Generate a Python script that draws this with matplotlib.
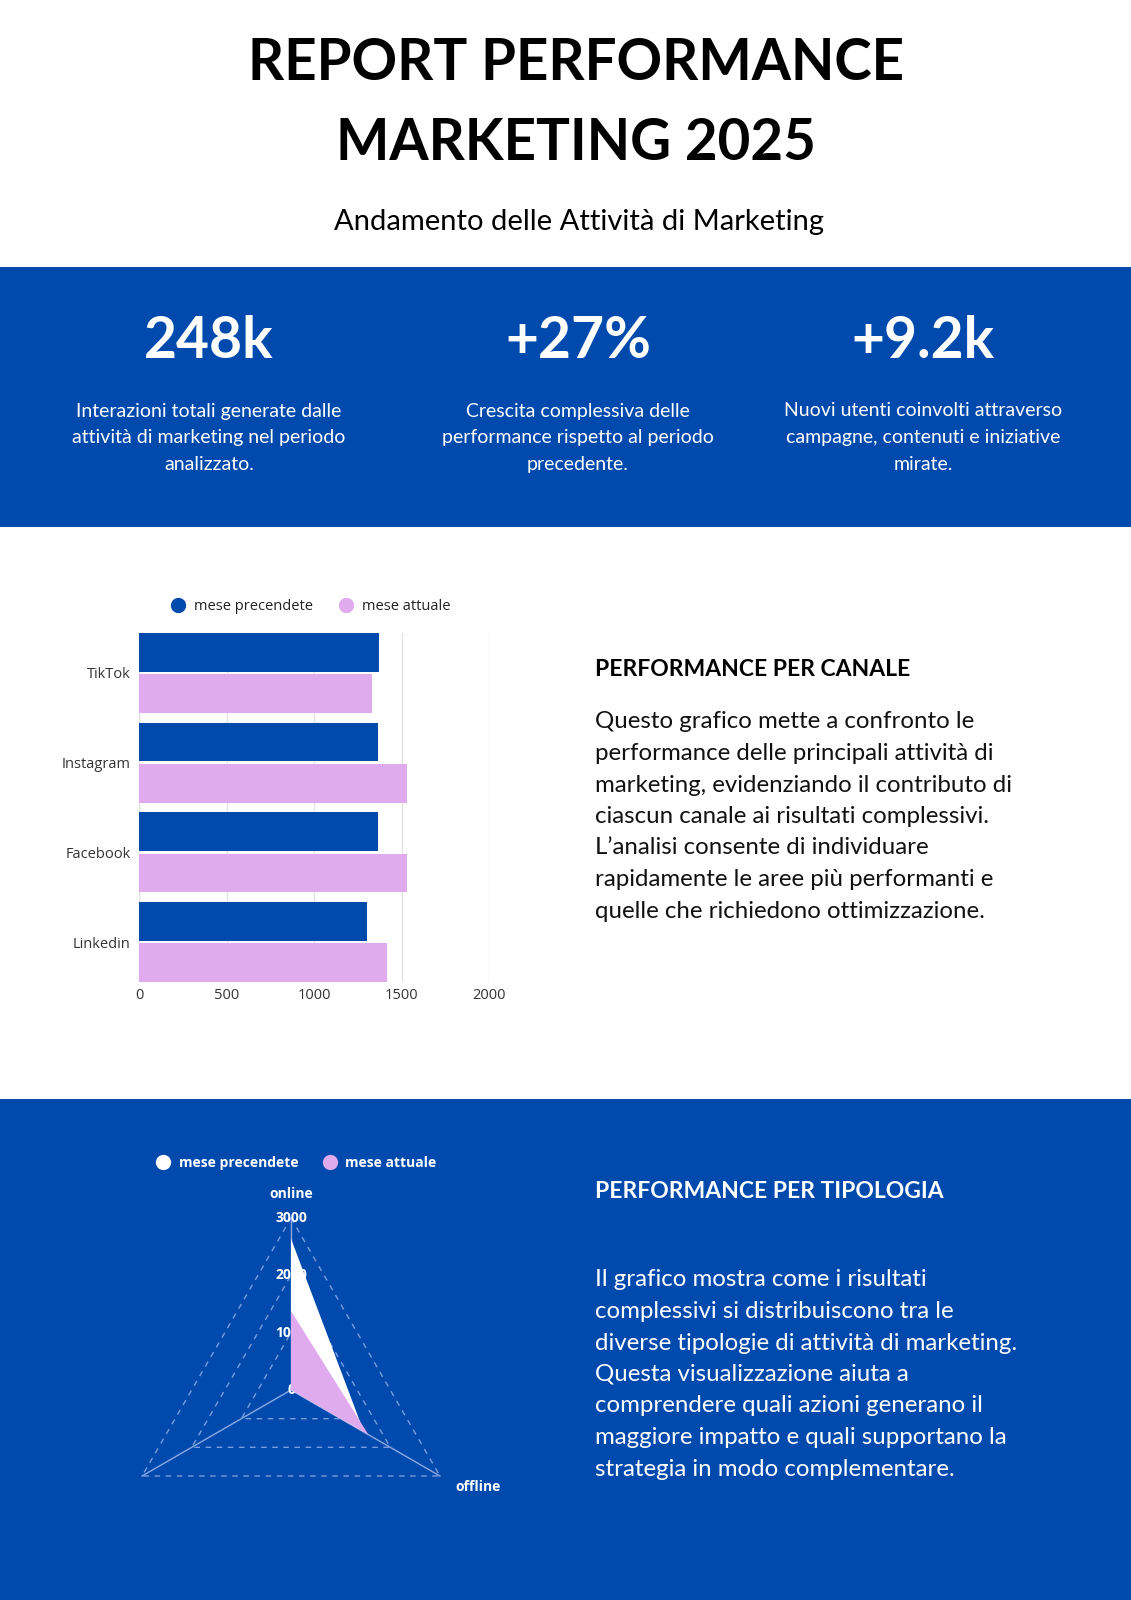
import matplotlib
matplotlib.use("Agg")
import matplotlib.pyplot as plt
import numpy as np
from matplotlib.patches import Rectangle
from matplotlib.lines import Line2D

# ---------------- data ----------------
channels = ["TikTok", "Instagram", "Facebook", "Linkedin"]
prev_month = [1370, 1368, 1368, 1300]
curr_month = [1330, 1533, 1533, 1418]
bar_ticks = [0, 500, 1000, 1500, 2000]

radar_axes = ["online", "offline", ""]
radar_prev = [2640, 1470, 0]
radar_curr = [1380, 1560, 0]
radar_ticks = [0, 1000, 2000, 3000]

series_names = ["mese precendete", "mese attuale"]

title_lines = ["REPORT PERFORMANCE", "MARKETING 2025"]
subtitle = "Andamento delle Attività di Marketing"
kpi_values = ["248k", "+27%", "+9.2k"]
kpi_texts = [
    ["Interazioni totali generate dalle", "attività di marketing nel periodo", "analizzato."],
    ["Crescita complessiva delle", "performance rispetto al periodo", "precedente."],
    ["Nuovi utenti coinvolti attraverso", "campagne, contenuti e iniziative", "mirate."],
]
sec1_title = "PERFORMANCE PER CANALE"
sec1_body = [
    "Questo grafico mette a confronto le",
    "performance delle principali attività di",
    "marketing, evidenziando il contributo di",
    "ciascun canale ai risultati complessivi.",
    "L’analisi consente di individuare",
    "rapidamente le aree più performanti e",
    "quelle che richiedono ottimizzazione.",
]
sec2_title = "PERFORMANCE PER TIPOLOGIA"
sec2_body = [
    "Il grafico mostra come i risultati",
    "complessivi si distribuiscono tra le",
    "diverse tipologie di attività di marketing.",
    "Questa visualizzazione aiuta a",
    "comprendere quali azioni generano il",
    "maggiore impatto e quali supportano la",
    "strategia in modo complementare.",
]

# ---------------- style ----------------
BLUE = "#004AAD"
PINK = "#E0AAEE"
W, H = 1131, 1600
TXT = ["Lato", "DejaVu Sans"]
CH = ["Open Sans", "DejaVu Sans"]

fig = plt.figure(figsize=(W / 100, H / 100), dpi=100)
fig.patch.set_facecolor("white")


def fx(x):
    return x / W


def fy(y):
    return 1 - y / H


# background bands
fig.patches.append(Rectangle((0, fy(527)), 1, (527 - 267.5) / H, transform=fig.transFigure,
                             facecolor=BLUE, edgecolor="none", zorder=-5))
fig.patches.append(Rectangle((0, 0), 1, fy(1098.5), transform=fig.transFigure,
                             facecolor=BLUE, edgecolor="none", zorder=-5))

# title
fig.text(fx(576), fy(63), title_lines[0], ha="center", va="center", fontsize=40.7,
         fontweight="bold", family=TXT, color="black")
fig.text(fx(576), fy(143), title_lines[1], ha="center", va="center", fontsize=40.7,
         fontweight="bold", family=TXT, color="black")
fig.text(fx(579), fy(222), subtitle, ha="center", va="center", fontsize=21,
         fontweight="normal", family=TXT, color="black")

# KPIs
kpi_x = [209, 578, 923]
for i in range(3):
    fig.text(fx(kpi_x[i]), fy(342), kpi_values[i], ha="center", va="center", fontsize=41,
             fontweight="bold", family=TXT, color="white")
    for j, line in enumerate(kpi_texts[i]):
        fig.text(fx(kpi_x[i]), fy(411 + j * 26.7), line, ha="center", va="center",
                 fontsize=14, family=TXT, color="white")

# section texts
fig.text(fx(595), fy(669), sec1_title, ha="left", va="center", fontsize=16.5,
         fontweight="bold", family=TXT, color="black")
for j, line in enumerate(sec1_body):
    fig.text(fx(595), fy(722 + j * 31.5), line, ha="left", va="center", fontsize=17.3,
             fontweight="normal", family=TXT, color="#111111")

fig.text(fx(595), fy(1192), sec2_title, ha="left", va="center", fontsize=16.5,
         fontweight="bold", family=TXT, color="white")
for j, line in enumerate(sec2_body):
    fig.text(fx(595), fy(1280 + j * 31.5), line, ha="left", va="center", fontsize=17.3,
             fontweight="normal", family=TXT, color="white")

# ---------------- bar chart ----------------
axb = fig.add_axes([fx(139), fy(982), (489 - 139) / W, (982 - 633) / H])
axb.set_facecolor("white")
y = np.arange(len(channels))
bh = 0.433
off = 0.23
axb.barh(y - off, prev_month, height=bh, color=BLUE, zorder=3, label=series_names[0])
axb.barh(y + off, curr_month, height=bh, color=PINK, zorder=3, label=series_names[1])
axb.set_xlim(0, 2000)
axb.set_ylim(3.445, -0.445)
axb.set_xticks(bar_ticks)
axb.set_xticklabels([str(t) for t in bar_ticks], family=CH, fontsize=10.5, color="#333333")
axb.set_yticks(y)
axb.set_yticklabels(channels, family=CH, fontsize=10.5, color="#333333")
axb.tick_params(axis="x", length=0, pad=4)
axb.tick_params(axis="y", length=0, pad=6)
axb.grid(axis="x", color="#e3e3e3", linewidth=1, zorder=0)
for s in axb.spines.values():
    s.set_visible(False)
axb.axvline(0, color="#e3e3e3", linewidth=1, zorder=1)

hb = [Line2D([], [], marker="o", linestyle="none", markersize=10, markerfacecolor=c,
             markeredgecolor=c) for c in (BLUE, PINK)]
axb.legend(hb, series_names, loc="center", bbox_to_anchor=(0.48, 1.077), ncol=2,
           frameon=False, prop={"family": CH, "size": 10.5}, handletextpad=0.1,
           columnspacing=1.3, labelcolor="#222222")

# ---------------- radar chart ----------------
R = 172
axr = fig.add_axes([fx(291 - R), fy(1390 + R), 2 * R / W, 2 * R / H], projection="polar")
axr.set_facecolor("none")
axr.set_theta_offset(np.pi / 2)
axr.set_theta_direction(-1)
n = len(radar_axes)
ang = np.linspace(0, 2 * np.pi, n, endpoint=False)
angc = np.concatenate([ang, ang[:1]])
axr.set_ylim(0, 3000)
axr.grid(False)
axr.spines["polar"].set_visible(False)
axr.set_xticks([])
axr.set_yticks([])

for lv in radar_ticks[1:]:
    axr.plot(angc, [lv] * (n + 1), color="#7d9be0", linewidth=1, linestyle=(0, (4, 4)),
             zorder=1, clip_on=False)
for a in ang:
    axr.plot([a, a], [0, 3000], color="#8ea8e4", linewidth=1, zorder=1, clip_on=False)
for lv in radar_ticks:
    axr.text(0, lv, str(lv), ha="center", va="center", fontsize=10, fontweight="bold",
             family=CH, color="white", zorder=2)

pv = np.concatenate([radar_prev, radar_prev[:1]])
cv = np.concatenate([radar_curr, radar_curr[:1]])
axr.fill(angc, pv, color="white", zorder=3, linewidth=0)
axr.fill(angc, cv, color=PINK, zorder=4, linewidth=0)

# axis labels
fig.text(fx(291), fy(1194), radar_axes[0], ha="center", va="center", fontsize=10,
         fontweight="bold", family=CH, color="white")
fig.text(fx(478), fy(1487), radar_axes[1], ha="center", va="center", fontsize=10,
         fontweight="bold", family=CH, color="white")

hr = [Line2D([], [], marker="o", linestyle="none", markersize=10, markerfacecolor=c,
             markeredgecolor=c) for c in ("white", PINK)]
fig.legend(hr, series_names, loc="center", bbox_to_anchor=(fx(293), fy(1163)), ncol=2,
           frameon=False, prop={"family": CH, "size": 10, "weight": "bold"},
           handletextpad=0.1, columnspacing=1.3, labelcolor="white")

fig.savefig("out.png", dpi=100)
